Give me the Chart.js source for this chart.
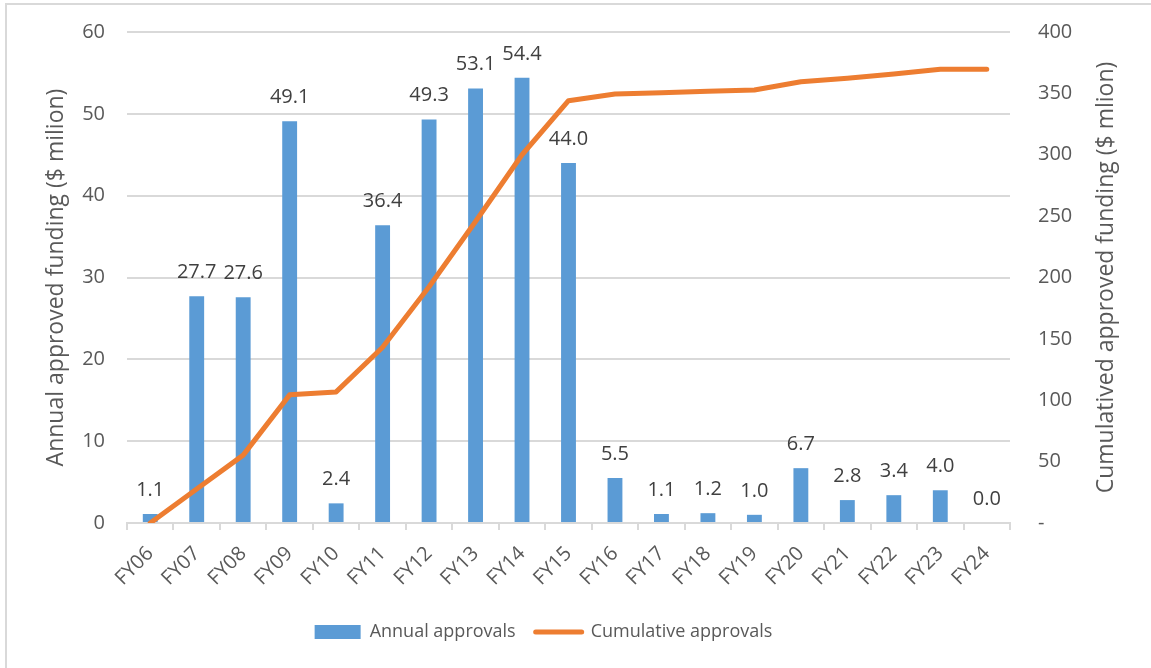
<!DOCTYPE html>
<html><head><meta charset="utf-8">
<script src="https://cdn.jsdelivr.net/npm/chart.js@4.4.1/dist/chart.umd.min.js"></script>
<style>
html,body{margin:0;padding:0;background:#fff;}
#wrap{position:relative;width:1151px;height:668px;overflow:hidden;}
#frame{position:absolute;left:5px;top:3px;right:-10px;bottom:-10px;border-left:2px solid #d9d9d9;border-top:2px solid #d9d9d9;pointer-events:none;}
canvas{position:absolute;left:0;top:0;}
</style></head>
<body><div id="wrap"><canvas id="c" width="1151" height="668"></canvas><div id="frame"></div></div>
<script>
const categories = ["FY06","FY07","FY08","FY09","FY10","FY11","FY12","FY13","FY14","FY15","FY16","FY17","FY18","FY19","FY20","FY21","FY22","FY23","FY24"];
const annualApprovals = [1.1,27.7,27.6,49.1,2.4,36.4,49.3,53.1,54.4,44.0,5.5,1.1,1.2,1.0,6.7,2.8,3.4,4.0,0.0];
const cumulativeApprovals = [0,27.7,55.3,104.4,106.8,143.2,192.5,245.6,300.0,344.0,349.5,350.6,351.8,352.8,359.5,362.3,365.7,369.7,369.7];
const leftTicks = [0,10,20,30,40,50,60];
const rightTicks = [0,50,100,150,200,250,300,350,400];
const leftTitle = 'Annual approved funding ($ milion)';
const rightTitle = 'Cumulatived approved funding ($ mlion)';

const FONT = "'Open Sans', sans-serif";
const TXT = '#595959';

const barLabels = {
  id: 'barLabels',
  afterDatasetsDraw(chart) {
    const ctx = chart.ctx;
    const meta = chart.getDatasetMeta(1);
    ctx.save();
    ctx.font = "20px " + FONT;
    ctx.fillStyle = '#404040';
    ctx.textAlign = 'center';
    ctx.textBaseline = 'middle';
    meta.data.forEach((el, i) => {
      ctx.fillText(annualApprovals[i].toFixed(1), el.x, el.y - 24);
    });
    ctx.restore();
  }
};

const rightTitlePlugin = {
  id: 'rightTitle',
  afterLayout(chart) {
    if (chart.legend) { chart.legend.left -= 32; chart.legend.right -= 32; }
  },
  afterDraw(chart) {
    const ctx = chart.ctx;
    const a = chart.chartArea;
    ctx.save();
    ctx.font = "23px " + FONT;
    ctx.fillStyle = TXT;
    ctx.textAlign = 'center';
    ctx.textBaseline = 'middle';
    ctx.translate(1106, (a.top + a.bottom) / 2);
    ctx.rotate(-Math.PI / 2);
    ctx.fillText(rightTitle, 0, 0);
    ctx.restore();
  }
};

function noPad(s) { s.paddingTop = 0; s.paddingBottom = 0; }

new Chart(document.getElementById('c'), {
  data: {
    labels: categories,
    datasets: [
      {
        type: 'line',
        label: 'Cumulative approvals',
        data: cumulativeApprovals,
        yAxisID: 'y2',
        borderColor: '#ed7d31',
        backgroundColor: '#ed7d31',
        borderWidth: 5,
        pointRadius: 0,
        pointStyle: 'line',
        borderCapStyle: 'round',
        borderJoinStyle: 'round',
        tension: 0,
        order: 0
      },
      {
        type: 'bar',
        label: 'Annual approvals',
        data: annualApprovals,
        yAxisID: 'y',
        backgroundColor: '#5b9bd5',
        borderWidth: 0,
        pointStyle: 'rect',
        barPercentage: 0.64,
        categoryPercentage: 0.5,
        order: 1
      }
    ]
  },
  options: {
    responsive: false,
    animation: false,
    devicePixelRatio: 1,
    layout: { padding: { left: 0, right: 0, top: 32, bottom: 17 } },
    plugins: {
      tooltip: { enabled: false },
      legend: {
        position: 'bottom',
        reverse: true,
        labels: {
          usePointStyle: true,
          pointStyleWidth: 46,
          boxHeight: 14,
          padding: 20,
          color: TXT,
          font: { family: FONT, size: 18 },
          generateLabels(chart) {
            const items = Chart.defaults.plugins.legend.labels.generateLabels(chart);
            items.forEach(it => {
              if (it.datasetIndex === 0) { it.pointStyle = 'line'; it.lineWidth = 5; it.strokeStyle = '#ed7d31'; it.lineCap = 'round'; }
              else { it.pointStyle = 'rect'; it.lineWidth = 0; it.fillStyle = '#5b9bd5'; }
            });
            return items;
          }
        }
      }
    },
    scales: {
      x: {
        offset: true,
        grid: { display: true, drawOnChartArea: false, drawTicks: true, tickLength: 7, color: '#d9d9d9', lineWidth: 2, offset: true },
        border: { display: true, color: '#d9d9d9', width: 2 },
        ticks: { color: TXT, font: { family: FONT, size: 20 }, minRotation: 45, maxRotation: 45, autoSkip: false, padding: 12 },
        afterFit(s) { s.height = 80; s.paddingTop = 0; }
      },
      y: {
        position: 'left',
        min: 0, max: 60,
        afterBuildTicks(s) { s.ticks = leftTicks.map(v => ({ value: v })); },
        grid: { color: '#d9d9d9', lineWidth: 2, drawTicks: false },
        border: { display: false },
        ticks: { color: TXT, font: { family: FONT, size: 20 }, padding: 22 },
        title: { display: true, text: leftTitle, color: TXT, font: { family: FONT, size: 23 }, padding: { top: 43, bottom: 0 } },
        afterFit(s) { s.width = 127; noPad(s); }
      },
      y2: {
        position: 'right',
        min: 0, max: 400,
        afterBuildTicks(s) { s.ticks = rightTicks.map(v => ({ value: v })); },
        grid: { display: false, drawTicks: false },
        border: { display: false },
        ticks: { color: TXT, font: { family: FONT, size: 20 }, padding: 28, callback: v => v === 0 ? '-' : String(v) },
        afterFit(s) { s.width = 141; noPad(s); }
      }
    }
  },
  plugins: [barLabels, rightTitlePlugin]
});
</script>
</body></html>
